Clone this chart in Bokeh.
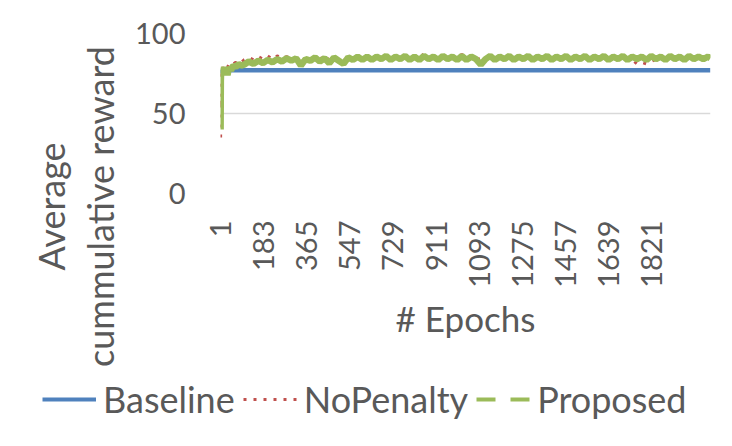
import math
from bokeh.plotting import figure
from bokeh.layouts import column, row
from bokeh.models import FixedTicker, Legend, LegendItem, Range1d, Label
from bokeh.embed import file_html
from bokeh.resources import INLINE

FONT = "Lato"
TXT = "#595959"

# ---- data ----
x_tick_labels = [1, 183, 365, 547, 729, 911, 1093, 1275, 1457, 1639, 1821]
y_ticks = [0, 50, 100]
n_epochs = 2070

epochs = [1, 2, 3, 4, 5, 7, 9, 12, 15, 19, 24, 30, 37, 45, 55, 65, 77, 88] \
    + list(range(100, 2061, 20)) + [2070]

proposed = [
    40, 70, 76, 75, 77, 76, 78, 77, 79, 76, 78, 74, 79, 77, 80, 79, 81, 80,
    # 100-300
    80.5, 82.5, 81, 83, 81.5, 83.5, 82, 84, 82.5, 84.5, 83,
    # 320-600
    84.5, 80, 84, 83, 85, 82.5, 84.5, 81.5, 85, 83, 81, 85, 83.5, 85.5, 83.5,
    # 620-1000
    85.5, 83.5, 85.5, 84, 86, 83.5, 85.5, 84, 86, 83.5, 85.5, 83.5, 86, 84, 85.5, 83.5, 86, 84, 85.5, 83.5,
    # 1020-1400
    86, 83.5, 85.5, 84, 80.5, 84, 86, 83.5, 85.5, 84, 86, 83.5, 85.5, 84, 86, 83.5, 85.5, 84, 86, 83.5,
    # 1420-1800
    85.5, 84, 86, 83.5, 85.5, 84, 86, 83.5, 85.5, 84, 86, 83.5, 85.5, 84, 86, 83.5, 85.5, 84, 85.5, 83.5,
    # 1820-2060
    86, 84, 85.5, 83.5, 86, 84, 85.5, 83.5, 86, 84, 85.5, 84, 85.5,
    84.5,
]

nopenalty = [
    35, 59, 53, 74, 76, 78, 77, 79, 78, 79, 80, 79, 81, 80, 81, 82, 81, 82,
    # 100-300
    83.5, 85, 83.5, 85.5, 84, 86, 84, 86, 84.5, 85.5, 84.5,
    # 320-600
    85, 82, 84.5, 84, 85, 83.5, 86.5, 83, 85, 84, 83, 85, 84, 85.5, 84,
    # 620-1000
    85, 84, 85.5, 84, 86, 84, 85.5, 84, 86, 84.5, 86.5, 84, 87.5, 84.5, 85.5, 84, 87.5, 84.5, 85.5, 84,
    # 1020-1400
    87, 84, 85.5, 84, 84, 84.5, 85.5, 84, 86, 84, 85.5, 84, 86, 84, 85.5, 84, 86, 84, 85.5, 84,
    # 1420-1800
    85.5, 84, 86, 84, 85.5, 84, 86, 84, 85.5, 84, 86, 84, 85.5, 84, 85.5, 84, 83.5, 81, 82, 81,
    # 1820-2060
    82.5, 84, 85.5, 84, 86, 84, 85.5, 84, 86, 84, 85.5, 84, 85.5,
    84.5,
]

base_epochs = [1, 3, 8, 20, 2070]
baseline = [75, 76, 76.5, 77, 77]

series_names = ["Baseline", "NoPenalty", "Proposed"]
series_colors = ["#4F81BD", "#C0504D", "#9BBB59"]
y_title_lines = ["Average", "cummulative reward"]

W, H = 732, 446
LEFT_W = 130
TOP_H = 376

# ---- main chart ----
p = figure(width=W - LEFT_W, height=TOP_H, output_backend="svg", toolbar_location=None,
           x_range=Range1d(0.5, n_epochs + 0.5), y_range=Range1d(0, 100),
           min_border_left=90, min_border_right=22, min_border_top=33,
           min_border_bottom=TOP_H - 193, frame_align=False)
p.outline_line_color = None

p.xgrid.visible = False
p.ygrid.grid_line_color = "#d9d9d9"
p.ygrid.grid_line_width = 1.5

p.yaxis.ticker = FixedTicker(ticks=y_ticks)
p.xaxis.ticker = FixedTicker(ticks=x_tick_labels)
p.xaxis.major_label_orientation = math.pi / 2

for ax in (p.xaxis[0], p.yaxis[0]):
    ax.axis_line_color = None
    ax.major_tick_line_color = None
    ax.minor_tick_line_color = None
    ax.major_tick_out = 0
    ax.major_tick_in = 0
    ax.major_label_text_font = FONT
    ax.major_label_text_font_size = "29px"
    ax.major_label_text_color = TXT

p.yaxis.major_label_standoff = 35
p.xaxis.major_label_standoff = 27
p.xaxis.axis_label = "# Epochs"
p.xaxis.axis_label_text_font = FONT
p.xaxis.axis_label_text_font_size = "35px"
p.xaxis.axis_label_text_font_style = "normal"
p.xaxis.axis_label_text_color = TXT
p.xaxis.axis_label_standoff = 6

p.line(base_epochs, baseline, color=series_colors[0], line_width=4.5)
p.line(epochs, nopenalty, color=series_colors[1], line_width=3, line_dash="3 7")
p.line(epochs, proposed, color=series_colors[2], line_width=6.5)

# ---- y axis title (left strip) ----
lt = figure(width=LEFT_W, height=TOP_H, output_backend="svg", toolbar_location=None,
            x_range=Range1d(0, LEFT_W), y_range=Range1d(0, TOP_H),
            x_axis_location=None, y_axis_location=None, min_border=0,
            frame_align=False)
lt.outline_line_color = None
lt.grid.visible = False
for txt, xs in zip(y_title_lines, (50, 99)):
    lt.add_layout(Label(x=xs, y=TOP_H - 206, text=txt, angle=math.pi / 2,
                        text_align="center", text_baseline="alphabetic",
                        text_font=FONT, text_font_size="36px", text_color=TXT))

# ---- legend strip (series drawn off-view, only the legend shows) ----
lg = figure(width=W, height=H - TOP_H, output_backend="svg", toolbar_location=None,
            x_range=Range1d(0.5, n_epochs + 0.5), y_range=Range1d(200, 300),
            x_axis_location=None, y_axis_location=None, min_border=0,
            frame_align=False)
lg.outline_line_color = None
lg.grid.visible = False
leg_base = lg.line(base_epochs, baseline, color=series_colors[0], line_width=4)
leg_nop = lg.line(epochs, nopenalty, color=series_colors[1], line_width=3, line_dash="3 7")
leg_prop = lg.line(epochs, proposed, color=series_colors[2], line_width=4, line_dash="19 15")
legend = Legend(items=[LegendItem(label=n, renderers=[r]) for n, r in
                       zip(series_names, (leg_base, leg_nop, leg_prop))],
                orientation="horizontal", location=(42, 25), padding=0, margin=0,
                spacing=8, glyph_width=54, label_standoff=7,
                label_text_font=FONT, label_text_font_size="36px",
                label_text_color=TXT, border_line_color=None,
                background_fill_alpha=0)
lg.add_layout(legend)

layout = column(row(lt, p, spacing=0), lg, spacing=0)
open("out.html", "w").write(file_html(layout, INLINE))
